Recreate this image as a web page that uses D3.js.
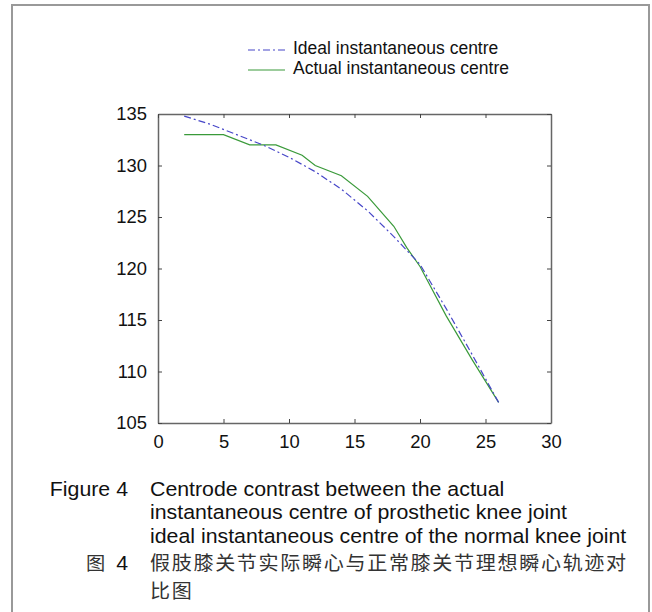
<!DOCTYPE html>
<html><head><meta charset="utf-8">
<script src="https://cdn.jsdelivr.net/npm/d3@7"></script>
<style>body{margin:0;background:#fff}svg{display:block}</style>
</head><body>
<svg id="c" width="652" height="612"></svg>
<script>
const xTicks = [0,5,10,15,20,25,30];
const yTicks = [105,110,115,120,125,130,135];
const idealX = [2,4,6,8,10,12,14,16,18,20,22,24,26];
const idealY = [134.8,134.0,133.0,132.0,130.8,129.4,127.7,125.6,123.1,120.4,116.1,111.6,107.0];
const actualX = [2,5,7,9,11,12,14,16,18,19,20,22,24,26];
const actualY = [133.0,133.0,132.0,132.0,131.0,130.0,129.0,127.0,124.1,122.0,120.2,115.4,111.1,107.0];
const seriesNames = ["Ideal instantaneous centre","Actual instantaneous centre"];
const figLabel = "Figure 4";
const figLabelZh = ["图","4"];
const captionEn = ["Centrode contrast between the actual","instantaneous centre of prosthetic knee joint","ideal instantaneous centre of the normal knee joint"];
const captionZh = ["假肢膝关节实际瞬心与正常膝关节理想瞬心轨迹对","比图"];

const svg = d3.select("#c");
const F = "Liberation Sans, Arial, sans-serif";
const ZH = "Noto Sans CJK SC, sans-serif";
const SX = 1.05;

svg.append("rect").attr("x",12).attr("y",5).attr("width",637).attr("height",640)
  .attr("fill","none").attr("stroke","#999").attr("stroke-width",2);

const L=158,R=551,T=114,B=423;
const x = d3.scaleLinear().domain([0,30]).range([L,R]);
const y = d3.scaleLinear().domain([105,135]).range([B,T]);

const g = svg.append("g");
const axB = g.append("g").attr("transform",`translate(0,${B})`)
  .call(d3.axisBottom(x).tickValues(xTicks).tickSize(-4).tickPadding(13).tickSizeOuter(0));
const axL = g.append("g").attr("transform",`translate(${L},0)`)
  .call(d3.axisLeft(y).tickValues(yTicks).tickSize(-4).tickPadding(11).tickSizeOuter(0));
const axT = g.append("g").attr("transform",`translate(0,${T})`)
  .call(d3.axisTop(x).tickValues(xTicks).tickSize(-4).tickFormat("").tickSizeOuter(0));
const axR = g.append("g").attr("transform",`translate(${R},0)`)
  .call(d3.axisRight(y).tickValues(yTicks).tickSize(-4).tickFormat("").tickSizeOuter(0));
[axB,axL,axT,axR].forEach(a=>{
  a.select(".domain").attr("stroke","#666").attr("stroke-width",1.5);
  a.selectAll(".tick line").attr("stroke","#444");
  a.selectAll("text").attr("font-family",F).attr("font-size",17.5).attr("fill","#111");
});
axB.selectAll("text").attr("transform",`scale(${SX},1)`);
axL.selectAll("text").attr("transform",`translate(-11,0) scale(${SX},1) translate(11,0)`);

const line = d3.line().x(d=>x(d[0])).y(d=>y(d[1]));
const ideal = idealX.map((v,i)=>[v,idealY[i]]);
const actual = actualX.map((v,i)=>[v,actualY[i]]);
svg.append("path").attr("d",line(actual)).attr("fill","none").attr("stroke","#3a9a3a").attr("stroke-width",1.2);
svg.append("path").attr("d",line(ideal)).attr("fill","none").attr("stroke","#4646c8").attr("stroke-width",1.2).attr("stroke-dasharray","7,3,2,3");

// legend
const leg = [{n:seriesNames[0],c:"#4646c8",d:"7,3,2,3",y:50},{n:seriesNames[1],c:"#3a9a3a",d:null,y:70}];
leg.forEach(l=>{
  svg.append("line").attr("x1",248).attr("x2",285).attr("y1",l.y).attr("y2",l.y)
    .attr("stroke",l.c).attr("stroke-width",1.2).attr("stroke-dasharray",l.d);
  svg.append("text").attr("x",293).attr("y",l.y+4).attr("font-family",F).attr("font-size",17.5)
    .attr("fill","#111").text(l.n);
});

// caption: one text block with lines as tspans
const CS = 1.04;
const cap = svg.append("text").attr("transform",`scale(${CS},1)`)
  .attr("font-family",F).attr("font-size",20.5).attr("fill","#111");
cap.append("tspan").attr("x",128/CS).attr("y",496).attr("text-anchor","end").text(figLabel);
captionEn.forEach((t,i)=> cap.append("tspan").attr("x",150/CS).attr("y",496+i*23.3).attr("text-anchor","start").text(t));
cap.append("tspan").attr("x",86/CS).attr("y",570).attr("text-anchor","start")
  .attr("font-family",ZH).attr("font-size",18.5).attr("fill","#333").text(figLabelZh[0]);
cap.append("tspan").attr("x",128/CS).attr("y",570).attr("text-anchor","end").text(figLabelZh[1]);
captionZh.forEach((t,i)=> cap.append("tspan").attr("x",150/CS).attr("y",570+i*28).attr("text-anchor","start")
  .attr("font-family",ZH).attr("font-size",19.3).attr("letter-spacing",1.6).attr("fill","#333").text(t));
</script>
</body></html>
